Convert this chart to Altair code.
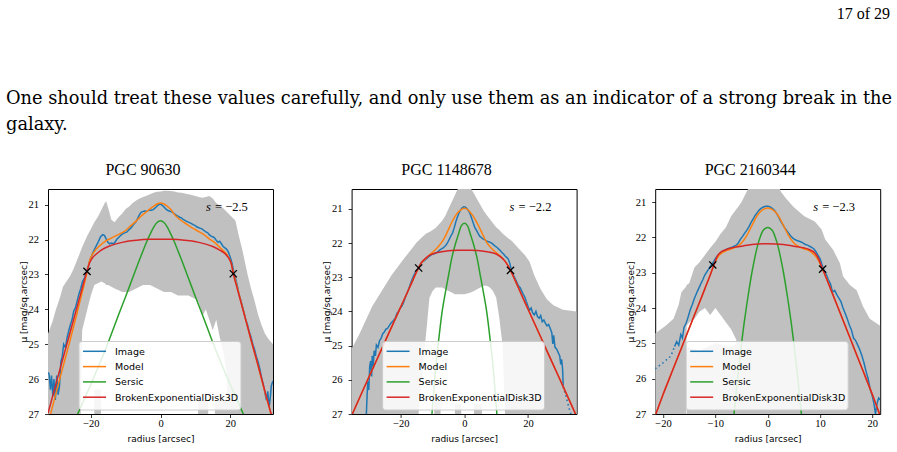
import altair as alt
import pandas as pd

BLUE, ORANGE, GREEN, RED = "#1f77b4", "#ff7f0e", "#2ca02c", "#d62728"
BAND_GRAY = "#c0c0c0"

LEGEND_LABELS = ["Image", "Model", "Sersic", "BrokenExponentialDisk3D"]
LEGEND_COLORS = [BLUE, ORANGE, GREEN, RED]
Y_TICKS = [21, 22, 23, 24, 25, 26, 27]

PAGE_NUMBER = "17 of 29"
BODY_LINES = [
    "One should treat these values carefully, and only use them as an indicator of a strong break in the",
    "galaxy.",
]

# ---------------- PGC 90630 ----------------
P1_NAME = "PGC 90630"
P1_SLOPE = "= \u22122.5"
P1_X_RANGE = [-32.3, 32.3]
P1_Y_TOP = 20.55
P1_X_TICKS = [-20, 0, 20]
# (radius, brightest, faintest) envelope of the profiles
P1_BAND = [
    (-32.3, 24.70, 27.6), (-31, 24.35, 27.6), (-30, 24.00, 27.6), (-29, 23.70, 27.6),
    (-28, 23.35, 27.6), (-27, 23.20, 27.6), (-26, 23.05, 27.6), (-25, 22.85, 27.6),
    (-24, 22.60, 27.6), (-23, 22.35, 27.6), (-22.5, 22.22, 24.6), (-21, 21.88, 24.0),
    (-20, 21.70, 23.6), (-19, 21.50, 23.3), (-18, 21.35, 23.25), (-17, 21.15, 23.2),
    (-16, 20.95, 23.25), (-15.6, 20.90, 23.3), (-15, 21.10, 23.3), (-14.1, 21.43, 23.35),
    (-13.2, 21.50, 23.4), (-12, 21.35, 23.45), (-11, 21.25, 23.5), (-10, 21.12, 23.5),
    (-9, 21.05, 23.5), (-8, 20.95, 23.45), (-7, 20.88, 23.4), (-6, 20.82, 23.35),
    (-5, 20.78, 23.3), (-4, 20.74, 23.3), (-3, 20.70, 23.3), (-2, 20.66, 23.35),
    (-1, 20.63, 23.4), (0, 20.62, 23.45), (1, 20.60, 23.5), (2, 20.60, 23.5),
    (3, 20.61, 23.5), (4, 20.62, 23.55), (5, 20.65, 23.6), (6, 20.66, 23.6),
    (7, 20.68, 23.6), (8, 20.70, 23.6), (9, 20.72, 23.65), (10, 20.75, 23.7),
    (11, 20.78, 23.8), (12, 20.80, 24.2), (13, 20.78, 24.0), (14, 20.75, 24.3),
    (15, 20.82, 24.6), (16, 20.95, 24.3), (17, 21.02, 24.8), (18, 21.10, 25.2),
    (19, 21.20, 25.8), (19.5, 21.25, 27.6), (20, 21.30, 27.6), (21.5, 21.45, 27.6),
    (22.5, 21.90, 27.6), (23.5, 22.30, 27.6), (25, 23.00, 27.6), (26, 23.40, 27.6),
    (27, 23.75, 27.6), (28, 24.15, 27.6), (29, 24.45, 27.6), (30, 24.70, 27.6),
    (31, 24.85, 27.6), (32.3, 25.00, 27.6),
]
# (piece, radius, brightest, faintest) for the separate patches near the bottom
P1_BAND_FOOT = [
    (1, -19.0, 26.3, 27.6), (1, -17.1, 26.3, 27.6),
    (2, 10.8, 26.6, 27.6), (2, 13.7, 26.6, 27.6),
    (3, 15.6, 26.6, 27.6), (3, 19.5, 26.6, 27.6),
]
P1_IMAGE = [
    (-32.5, 25.80), (-32.0, 25.85), (-31.6, 26.30), (-31.3, 25.90), (-30.9, 26.50),
    (-30.6, 26.00), (-30.2, 26.60), (-29.8, 25.90), (-29.4, 26.45), (-29.0, 26.20),
    (-28.6, 25.50), (-28.2, 25.35), (-27.8, 25.00), (-27.3, 25.10), (-26.8, 24.80),
    (-26.3, 24.60), (-25.9, 24.45), (-25.4, 24.30), (-24.9, 24.05), (-24.4, 23.95),
    (-23.9, 23.75), (-23.4, 23.55), (-22.9, 23.40), (-22.4, 23.20), (-21.8, 23.10),
    (-21.3, 22.95), (-20.8, 22.80), (-20.3, 22.60), (-19.8, 22.48), (-19.3, 22.35),
    (-18.8, 22.25), (-18.3, 22.15), (-17.8, 22.05), (-17.2, 21.92), (-16.6, 21.86),
    (-16.1, 21.88), (-15.6, 21.98), (-15.1, 22.08), (-14.6, 22.12), (-14.1, 22.10),
    (-13.6, 22.12), (-13.1, 22.08), (-12.6, 22.00), (-12.1, 21.95), (-11.6, 21.90),
    (-11.1, 21.85), (-10.6, 21.82), (-10.1, 21.80), (-9.6, 21.78), (-9.1, 21.72),
    (-8.6, 21.68), (-8.1, 21.62), (-7.6, 21.55), (-7.1, 21.50), (-6.6, 21.40),
    (-6.1, 21.30), (-5.6, 21.22), (-5.1, 21.20), (-4.6, 21.18), (-4.1, 21.19),
    (-3.6, 21.17), (-3.1, 21.15), (-2.6, 21.16), (-2.1, 21.14), (-1.6, 21.10),
    (-1.1, 21.05), (-0.6, 21.00), (0.0, 20.98), (0.5, 21.02), (1.0, 21.06),
    (1.5, 21.12), (2.0, 21.16), (2.5, 21.18), (3.0, 21.20), (3.5, 21.22),
    (4.0, 21.26), (4.5, 21.30), (5.0, 21.33), (5.5, 21.36), (6.0, 21.38),
    (6.5, 21.42), (7.0, 21.45), (7.5, 21.48), (8.0, 21.50), (8.5, 21.52),
    (9.0, 21.55), (9.5, 21.58), (10.0, 21.60), (10.5, 21.64), (11.0, 21.66),
    (11.5, 21.68), (12.0, 21.70), (12.5, 21.74), (13.0, 21.78), (13.5, 21.80),
    (14.0, 21.86), (14.5, 21.90), (15.0, 21.92), (15.5, 21.95), (16.0, 22.02),
    (16.5, 22.08), (17.0, 22.05), (17.5, 22.12), (18.0, 22.20), (18.5, 22.24),
    (19.0, 22.28), (19.5, 22.36), (20.0, 22.50), (20.5, 22.66), (21.0, 22.90),
    (21.5, 23.10), (22.0, 23.30), (22.5, 23.55), (23.0, 23.72), (23.5, 23.90),
    (24.0, 24.10), (24.5, 24.30), (25.0, 24.45), (25.5, 24.65), (26.0, 24.80),
    (26.5, 25.00), (27.0, 25.15), (27.5, 25.35), (28.0, 25.50), (28.5, 25.70),
    (29.0, 25.95), (29.5, 26.15), (30.0, 26.40), (30.4, 26.60), (30.8, 26.35),
    (31.2, 26.80), (31.5, 26.55), (31.8, 26.20), (32.1, 26.10), (32.4, 26.05),
]
P1_IMAGE_TAIL = []
P1_MODEL = [
    (-31.7, 27.05), (-30, 26.40), (-28, 25.65), (-26, 24.90), (-24, 24.12),
    (-22.5, 23.52), (-21.5, 23.12), (-21, 22.90), (-20.4, 22.62), (-19.5, 22.42),
    (-18.5, 22.28), (-17.5, 22.18), (-16, 22.06), (-14, 21.95), (-12, 21.85),
    (-10, 21.74), (-8.5, 21.60), (-7, 21.47), (-5.5, 21.32), (-4, 21.20),
    (-3, 21.12), (-2, 21.05), (-1, 20.98), (0, 20.95), (1, 20.98), (2, 21.05),
    (3, 21.14), (4, 21.28), (5, 21.38), (6, 21.46), (7.5, 21.56), (9.2, 21.67),
    (11, 21.77), (12.5, 21.86), (14, 21.98), (15.5, 22.08), (17, 22.22),
    (17.8, 22.30), (19, 22.42), (20.2, 22.65), (21, 22.97), (22, 23.36),
    (24, 24.12), (26, 24.88), (28, 25.62), (30, 26.38), (32.0, 27.10),
]
P1_SERSIC = [
    (-24, 27.05), (-22, 26.60), (-20, 26.15), (-18, 25.68), (-16, 25.20),
    (-14, 24.68), (-12, 24.15), (-10, 23.63), (-8, 23.10), (-6, 22.57),
    (-5, 22.32), (-4, 22.07), (-3, 21.85), (-2, 21.65), (-1, 21.51),
    (0, 21.46), (1, 21.51), (2, 21.65), (3, 21.85), (4, 22.07), (5, 22.32),
    (6, 22.57), (8, 23.10), (10, 23.63), (12, 24.15), (14, 24.68), (16, 25.20),
    (18, 25.68), (20, 26.15), (22, 26.60), (24, 27.05),
]
P1_DISK = [
    (-32.3, 26.98), (-30, 26.13), (-28, 25.40), (-26, 24.68), (-24, 23.95),
    (-22, 23.22), (-21.1, 22.90), (-20.4, 22.68), (-19.5, 22.52), (-18.5, 22.42),
    (-17, 22.30), (-15, 22.20), (-13, 22.13), (-11, 22.08), (-9, 22.04),
    (-7, 22.02), (-5, 22.00), (-3, 21.99), (0, 21.99), (3, 21.99), (5, 22.00),
    (7, 22.02), (9, 22.04), (11, 22.08), (13, 22.13), (15, 22.20), (17, 22.30),
    (18.5, 22.40), (19.5, 22.52), (20.3, 22.68), (20.9, 22.98), (22, 23.39),
    (24, 24.13), (26, 24.87), (28, 25.60), (30, 26.35), (32.3, 27.20),
]
P1_BREAKS = [(-21.1, 22.91), (20.9, 22.98)]

# ---------------- PGC 1148678 ----------------
P2_NAME = "PGC 1148678"
P2_SLOPE = "= \u22122.2"
P2_X_RANGE = [-35.5, 35.3]
P2_Y_TOP = 20.42
P2_X_TICKS = [-20, 0, 20]
P2_BAND = [
    (-35.5, 25.10, 27.6), (-33, 24.65, 27.6), (-31, 24.25, 27.6), (-29, 23.85, 27.6),
    (-27, 23.55, 27.6), (-25, 23.25, 27.6), (-23, 22.95, 27.6), (-21, 22.70, 27.6),
    (-19, 22.45, 27.6), (-17, 22.22, 27.6), (-15, 21.98, 27.6), (-13, 21.80, 25.5),
    (-12, 21.72, 24.6), (-11, 21.68, 23.6), (-10, 21.62, 23.4), (-9, 21.55, 23.3),
    (-8, 21.45, 23.3), (-7, 21.35, 23.3), (-6, 21.20, 23.35), (-5, 21.00, 23.4),
    (-4, 20.80, 23.45), (-3, 20.60, 23.5), (-2, 20.40, 23.5), (0, 20.35, 23.5),
    (2, 20.40, 23.45), (3, 20.55, 23.4), (4, 20.72, 23.35), (5, 20.88, 23.3),
    (6, 21.05, 23.25), (7, 21.18, 23.25), (8, 21.30, 23.3), (9, 21.42, 23.4),
    (10, 21.54, 23.6), (11, 21.62, 24.2), (12, 21.72, 25.0), (13, 21.80, 27.6),
    (15, 21.95, 27.6), (17, 22.15, 27.6), (19, 22.35, 27.6), (20.5, 22.55, 27.6),
    (22, 22.95, 27.6), (24, 23.35, 27.6), (26, 23.65, 27.6), (28, 23.82, 27.6),
    (31, 23.95, 27.6), (35.3, 24.00, 27.6),
]
P2_BAND_FOOT = [
    (1, -9.5, 26.6, 27.6), (1, -7.5, 26.6, 27.6),
    (2, -3.0, 26.7, 27.6), (2, -1.0, 26.7, 27.6),
    (3, 3.0, 26.7, 27.6), (3, 5.5, 26.7, 27.6),
]
P2_IMAGE = [
    (-30.9, 27.10), (-30.6, 26.40), (-30.4, 26.05), (-30.1, 26.30), (-29.8, 25.60),
    (-29.5, 25.45), (-29.2, 25.90), (-29.0, 25.30), (-28.7, 25.60), (-28.4, 25.15),
    (-28.0, 25.30), (-27.7, 24.98), (-27.2, 25.05), (-26.7, 24.85), (-26.2, 24.78),
    (-25.7, 24.65), (-25.2, 24.60), (-24.7, 24.52), (-24.2, 24.50), (-23.7, 24.42),
    (-23.2, 24.35), (-22.7, 24.30), (-22.2, 24.25), (-21.7, 24.18), (-21.2, 24.05),
    (-20.7, 24.00), (-20.2, 23.90), (-19.7, 23.85), (-19.2, 23.75), (-18.7, 23.62),
    (-18.2, 23.50), (-17.7, 23.38), (-17.2, 23.25), (-16.7, 23.12), (-16.2, 23.00),
    (-15.7, 22.90), (-15.2, 22.82), (-14.7, 22.75), (-14.2, 22.68), (-13.7, 22.60),
    (-13.2, 22.55), (-12.7, 22.52), (-12.2, 22.48), (-11.7, 22.44), (-11.2, 22.40),
    (-10.7, 22.36), (-10.2, 22.33), (-9.7, 22.32), (-9.2, 22.30), (-8.7, 22.28),
    (-8.2, 22.24), (-7.7, 22.20), (-7.2, 22.17), (-6.7, 22.14), (-6.2, 22.10),
    (-5.7, 22.05), (-5.2, 21.97), (-4.7, 21.88), (-4.2, 21.78), (-3.7, 21.70),
    (-3.2, 21.55), (-2.7, 21.38), (-2.2, 21.24), (-1.7, 21.12), (-1.2, 21.03),
    (-0.7, 20.97), (-0.2, 20.94), (0.3, 20.95), (0.8, 21.00), (1.3, 21.06),
    (1.8, 21.15), (2.3, 21.28), (2.8, 21.42), (3.3, 21.55), (3.8, 21.63),
    (4.3, 21.72), (4.8, 21.80), (5.3, 21.84), (5.8, 21.88), (6.3, 21.90),
    (6.8, 21.93), (7.3, 21.95), (7.8, 21.97), (8.3, 21.99), (8.8, 22.02),
    (9.3, 22.06), (9.8, 22.10), (10.3, 22.13), (10.8, 22.18), (11.3, 22.22),
    (11.8, 22.28), (12.3, 22.32), (12.8, 22.38), (13.3, 22.42), (13.8, 22.47),
    (14.3, 22.60), (14.9, 22.85), (15.5, 22.95), (16.0, 23.05), (16.5, 23.15),
    (17.0, 23.25), (17.5, 23.30), (18.0, 23.40), (18.5, 23.50), (19.0, 23.58),
    (19.5, 23.72), (20.0, 23.85), (20.5, 23.97), (21.0, 23.90), (21.5, 24.05),
    (22.0, 24.10), (22.5, 24.00), (23.0, 24.15), (23.5, 24.20), (24.0, 24.12),
    (24.5, 24.30), (25.0, 24.25), (25.5, 24.35), (26.0, 24.42), (26.5, 24.38),
    (27.0, 24.50), (27.5, 24.62), (27.8, 24.95), (28.1, 24.70), (28.5, 25.05),
    (29.0, 25.10), (29.5, 25.20), (30.0, 25.30), (30.3, 25.55), (30.6, 25.40),
    (30.9, 25.70), (31.1, 26.20),
]
P2_IMAGE_TAIL = [(31.1, 26.20), (32.0, 26.50), (33.0, 26.85), (33.8, 27.10)]
P2_MODEL = [
    (-35.5, 27.05), (-32, 26.32), (-28, 25.50), (-24, 24.68), (-20, 23.86),
    (-17, 23.25), (-15.5, 22.93), (-14.4, 22.72), (-13.5, 22.58), (-12.5, 22.48),
    (-12, 22.44), (-11, 22.35), (-10, 22.27), (-9, 22.18), (-8, 22.08),
    (-7, 21.96), (-6, 21.80), (-5, 21.60), (-4, 21.40), (-3, 21.23), (-2, 21.10),
    (-1, 21.02), (0, 20.98), (1, 21.02), (2, 21.12), (3, 21.25), (4, 21.42),
    (5, 21.60), (6, 21.80), (7, 21.98), (8, 22.10), (9, 22.20), (10, 22.28),
    (11, 22.36), (12, 22.45), (12.5, 22.50), (13.5, 22.63), (14.5, 22.80),
    (16, 23.10), (18, 23.52), (20, 23.93), (24, 24.75), (28, 25.57),
    (32, 26.39), (35.3, 27.07),
]
P2_SERSIC = [
    (-10.3, 27.10), (-10, 26.75), (-9, 25.60), (-8, 24.75), (-7, 24.00),
    (-6, 23.45), (-5, 22.95), (-4, 22.45), (-3, 22.08), (-2, 21.78),
    (-1, 21.50), (0, 21.42), (1, 21.50), (2, 21.78), (3, 22.08), (4, 22.45),
    (5, 22.95), (6, 23.45), (7, 24.00), (8, 24.75), (9, 25.60), (10, 26.75),
    (10.3, 27.10),
]
P2_DISK = [
    (-35.5, 27.05), (-32, 26.32), (-28, 25.50), (-24, 24.68), (-20, 23.86),
    (-17, 23.25), (-15.5, 22.93), (-14.4, 22.72), (-13.5, 22.57), (-12.5, 22.47),
    (-11.4, 22.38), (-10, 22.32), (-8, 22.27), (-6, 22.24), (-4, 22.22),
    (-2, 22.21), (0, 22.21), (2, 22.21), (4, 22.22), (6, 22.24), (8, 22.27),
    (10, 22.32), (11.6, 22.42), (12.5, 22.50), (13.5, 22.63), (14.5, 22.80),
    (16, 23.10), (18, 23.52), (20, 23.93), (24, 24.75), (28, 25.57),
    (32, 26.39), (35.3, 27.07),
]
P2_BREAKS = [(-14.4, 22.73), (14.5, 22.80)]

# ---------------- PGC 2160344 ----------------
P3_NAME = "PGC 2160344"
P3_SLOPE = "= \u22122.3"
P3_X_RANGE = [-21.5, 21.5]
P3_Y_TOP = 20.63
P3_X_TICKS = [-20, -10, 0, 10, 20]
P3_BAND = [
    (-21.5, 24.72, 27.6), (-19.5, 24.50, 27.6), (-18, 24.30, 27.6), (-17, 23.90, 27.6),
    (-16.5, 23.55, 27.6), (-15.6, 23.40, 27.6), (-15.5, 23.35, 24.5), (-15, 23.30, 24.4),
    (-14, 22.85, 24.3), (-13, 22.70, 24.1), (-12, 22.50, 24.0), (-11, 22.30, 24.2),
    (-10, 22.12, 24.0), (-9, 21.90, 24.2), (-8, 21.72, 24.4), (-7, 21.40, 24.6),
    (-6, 21.20, 24.9), (-5.7, 21.15, 27.6), (-5, 21.00, 27.6), (-4, 20.70, 27.6),
    (-3.5, 20.55, 27.6), (-3, 20.45, 27.6), (2, 20.45, 27.6), (2.5, 20.70, 27.6),
    (3.5, 20.90, 27.6), (5, 21.15, 27.6), (7, 21.40, 27.6), (9, 21.55, 27.6),
    (10.3, 21.78, 27.6), (11, 22.06, 27.6), (12.5, 22.35, 27.6), (13.8, 22.73, 27.6),
    (14.4, 23.10, 27.6), (15.7, 23.35, 27.6), (17, 23.50, 27.6), (18.2, 23.95, 27.6),
    (19.5, 24.30, 27.6), (21.5, 24.50, 27.6),
]
P3_BAND_FOOT = [
    (1, -15.5, 25.1, 27.6), (1, -13.0, 25.2, 27.6), (1, -10.0, 25.0, 27.6),
    (1, -7.0, 25.1, 27.6), (1, -5.7, 25.0, 27.6),
]
P3_IMAGE = [
    (-17.8, 25.09), (-17.4, 24.95), (-17.0, 25.05), (-16.6, 24.75), (-16.3, 24.85),
    (-16.0, 24.55), (-15.6, 24.43), (-15.2, 24.25), (-14.8, 24.05), (-14.4, 23.90),
    (-14.0, 23.72), (-13.6, 23.58), (-13.2, 23.45), (-12.8, 23.32), (-12.4, 23.20),
    (-12.0, 23.06), (-11.6, 22.97), (-11.2, 22.88), (-10.8, 22.78), (-10.4, 22.70),
    (-10.0, 22.60), (-9.6, 22.52), (-9.2, 22.46), (-8.8, 22.42), (-8.4, 22.38),
    (-8.0, 22.35), (-7.6, 22.32), (-7.2, 22.30), (-6.8, 22.28), (-6.4, 22.25),
    (-6.0, 22.22), (-5.6, 22.15), (-5.2, 22.05), (-4.8, 21.97), (-4.4, 21.88),
    (-4.0, 21.80), (-3.6, 21.70), (-3.2, 21.58), (-2.8, 21.48), (-2.4, 21.38),
    (-2.0, 21.30), (-1.6, 21.22), (-1.2, 21.17), (-0.8, 21.14), (-0.4, 21.12),
    (0.0, 21.12), (0.4, 21.13), (0.8, 21.17), (1.2, 21.22), (1.6, 21.30),
    (2.0, 21.40), (2.4, 21.52), (2.8, 21.62), (3.2, 21.72), (3.6, 21.80),
    (4.0, 21.88), (4.4, 21.96), (4.8, 22.02), (5.2, 22.06), (5.6, 22.09),
    (6.0, 22.11), (6.4, 22.13), (6.8, 22.16), (7.2, 22.20), (7.6, 22.22),
    (8.0, 22.25), (8.4, 22.28), (8.8, 22.32), (9.2, 22.40), (9.6, 22.50),
    (10.0, 22.60), (10.4, 22.78), (10.8, 22.95), (11.2, 23.05), (11.6, 23.20),
    (12.0, 23.32), (12.4, 23.55), (12.8, 23.50), (13.2, 23.62), (13.6, 23.72),
    (14.0, 23.82), (14.4, 24.00), (14.8, 24.15), (15.2, 24.30), (15.6, 24.48),
    (16.0, 24.62), (16.4, 24.85), (16.8, 24.92), (17.2, 25.05), (17.6, 25.18),
    (18.0, 25.35), (18.4, 25.55), (18.8, 25.80), (19.2, 26.00), (19.6, 26.30),
    (20.0, 26.50), (20.3, 26.70), (20.6, 27.00), (20.9, 26.70), (21.2, 26.55),
    (21.5, 26.60),
]
P3_IMAGE_TAIL = [(-21.5, 25.72), (-20.0, 25.55), (-18.5, 25.36), (-17.8, 25.09)]
P3_MODEL = [
    (-21.5, 27.05), (-20, 26.45), (-18, 25.70), (-16, 24.95), (-14, 24.20),
    (-12, 23.45), (-11, 23.07), (-10.3, 22.79), (-9.5, 22.55), (-8.5, 22.42),
    (-8, 22.38), (-7, 22.33), (-6, 22.27), (-5, 22.16), (-4, 21.95), (-3, 21.66),
    (-2, 21.38), (-1, 21.22), (0, 21.17), (1, 21.22), (2, 21.38), (3, 21.66),
    (4, 21.95), (5, 22.16), (6, 22.27), (7, 22.33), (8, 22.38), (8.5, 22.44),
    (9.5, 22.60), (10.5, 22.90), (12, 23.45), (14, 24.20), (16, 24.95),
    (18, 25.70), (20, 26.45), (21.5, 27.05),
]
P3_SERSIC = [
    (-6.5, 27.10), (-6, 26.35), (-5.5, 25.65), (-5, 25.00), (-4.5, 24.42),
    (-4, 23.90), (-3.5, 23.42), (-3, 22.98), (-2.5, 22.60), (-2, 22.27),
    (-1.5, 22.02), (-1, 21.83), (-0.5, 21.75), (0, 21.72), (0.5, 21.75),
    (1, 21.83), (1.5, 22.02), (2, 22.27), (2.5, 22.60), (3, 22.98),
    (3.5, 23.42), (4, 23.90), (4.5, 24.42), (5, 25.00), (5.5, 25.65),
    (6, 26.35), (6.5, 27.10),
]
P3_DISK = [
    (-21.5, 27.05), (-20, 26.45), (-18, 25.70), (-16, 24.95), (-14, 24.20),
    (-12, 23.45), (-11, 23.07), (-10.3, 22.79), (-9.7, 22.55), (-9, 22.42),
    (-8, 22.35), (-7, 22.30), (-5, 22.25), (-3, 22.20), (0, 22.18), (3, 22.20),
    (5, 22.25), (7, 22.30), (8, 22.35), (9, 22.44), (9.7, 22.60), (10.5, 22.90),
    (12, 23.45), (14, 24.20), (16, 24.95), (18, 25.70), (20, 26.45),
    (21.5, 27.05),
]
P3_BREAKS = [(-10.5, 22.78), (10.5, 22.90)]

PLOT_W, PLOT_H = 225, 225
ONE_ROW = alt.Data(values=[{"k": 0}])
X_MARK = "M-1,-1L1,1M-1,1L1,-1"


def points(rows, cols=("r", "mu")):
    return pd.DataFrame(rows, columns=list(cols))


def label(text, x, y, **style):
    opts = dict(font="Liberation Serif", align="left", baseline="alphabetic", color="black")
    opts.update(style)
    return alt.Chart(ONE_ROW).mark_text(text=text, **opts).encode(
        x=alt.value(x), y=alt.value(y))


def panel(name, slope, x_range, y_top, x_ticks, band, foot, image, image_tail,
          model, sersic, disk, breaks, page_text=False):
    xs = alt.Scale(domain=x_range, nice=False, zero=False)
    ys = alt.Scale(domain=[y_top, 27], reverse=True, nice=False, zero=False)
    x_axis = alt.Axis(values=x_ticks, title="radius [arcsec]", titleY=20)
    y_axis = alt.Axis(values=Y_TICKS, title="\u03bc [mag/sq.arcsec]", titleX=-20)
    X = alt.X("r:Q", scale=xs, axis=x_axis)
    Y = alt.Y("mu:Q", scale=ys, axis=y_axis)

    layers = [
        alt.Chart(points(band, ("r", "hi", "lo")))
        .mark_area(color=BAND_GRAY, clip=True, opacity=1)
        .encode(x=X, y=alt.Y("hi:Q", scale=ys, axis=y_axis), y2="lo:Q")
    ]
    if foot:
        layers.append(
            alt.Chart(points(foot, ("piece", "r", "hi", "lo")))
            .mark_area(color=BAND_GRAY, clip=True, opacity=1)
            .encode(x=X, y=alt.Y("hi:Q", scale=ys, axis=y_axis), y2="lo:Q", detail="piece:N")
        )
    if image_tail:
        layers.append(
            alt.Chart(points(image_tail))
            .mark_line(color=BLUE, strokeWidth=1.6, strokeDash=[1.5, 3], clip=True)
            .encode(x=X, y=Y)
        )
    for rows, color, interp in [(image, BLUE, "linear"), (model, ORANGE, "monotone"),
                                (sersic, GREEN, "monotone"), (disk, RED, "monotone")]:
        layers.append(
            alt.Chart(points(rows))
            .mark_line(color=color, strokeWidth=1.5, clip=True, interpolate=interp)
            .encode(x=X, y=Y)
        )
    layers.append(
        alt.Chart(points(breaks))
        .mark_point(shape=X_MARK, size=52, filled=False, color="black", strokeWidth=1.3, opacity=1)
        .encode(x=X, y=Y)
    )
    # panel title and slope annotation
    layers.append(label(name, 95, -14.4, fontSize=16, align="center"))
    layers.append(label("s", 158, 22, fontSize=12.5, fontStyle="italic"))
    layers.append(label(slope, 167, 22, fontSize=12.5))
    # legend box
    layers.append(
        alt.Chart(ONE_ROW).mark_rect(fill="white", fillOpacity=0.85, stroke="#cccccc",
                                     strokeWidth=1, cornerRadius=3)
        .encode(x=alt.value(31), x2=alt.value(193), y=alt.value(152.5), y2=alt.value(221))
    )
    for i, (text, color) in enumerate(zip(LEGEND_LABELS, LEGEND_COLORS)):
        row_y = 162.3 + i * 15.3
        layers.append(
            alt.Chart(ONE_ROW).mark_rule(color=color, strokeWidth=1.5)
            .encode(x=alt.value(35), x2=alt.value(58), y=alt.value(row_y))
        )
        layers.append(label(text, 67, row_y + 0.5, font="DejaVu Sans", fontSize=9.5,
                            baseline="middle"))
    if page_text:
        layers.append(label(PAGE_NUMBER, 842, -170, fontSize=16, align="right"))
        for j, line in enumerate(BODY_LINES):
            layers.append(label(line, -42, -85 + j * 26, font="DejaVu Serif", fontSize=17.8))
    return alt.layer(*layers).properties(width=PLOT_W, height=PLOT_H)


p1 = panel(P1_NAME, P1_SLOPE, P1_X_RANGE, P1_Y_TOP, P1_X_TICKS, P1_BAND, P1_BAND_FOOT,
           P1_IMAGE, P1_IMAGE_TAIL, P1_MODEL, P1_SERSIC, P1_DISK, P1_BREAKS, page_text=True)
p2 = panel(P2_NAME, P2_SLOPE, P2_X_RANGE, P2_Y_TOP, P2_X_TICKS, P2_BAND, P2_BAND_FOOT,
           P2_IMAGE, P2_IMAGE_TAIL, P2_MODEL, P2_SERSIC, P2_DISK, P2_BREAKS)
p3 = panel(P3_NAME, P3_SLOPE, P3_X_RANGE, P3_Y_TOP, P3_X_TICKS, P3_BAND, P3_BAND_FOOT,
           P3_IMAGE, P3_IMAGE_TAIL, P3_MODEL, P3_SERSIC, P3_DISK, P3_BREAKS)

chart = (
    alt.hconcat(p1, p2, p3, spacing=78.6, bounds="flush")
    .resolve_scale(x="independent", y="independent")
    .properties(padding={"left": 5, "top": 5, "right": 0, "bottom": 0}, background="white")
    .configure_view(stroke="black", strokeWidth=1)
    .configure_axis(
        labelFont="Liberation Serif", labelFontSize=10.5, labelColor="black",
        titleFont="DejaVu Sans", titleFontSize=9, titleFontWeight="normal", titleColor="black",
        tickColor="black", tickSize=3.5, tickWidth=0.8, domain=False, grid=False,
    )
    .configure_axisX(labelPadding=1)
    .configure_axisY(labelPadding=6)
)

chart.save("out.html", embed_options={"renderer": "svg", "actions": False})
